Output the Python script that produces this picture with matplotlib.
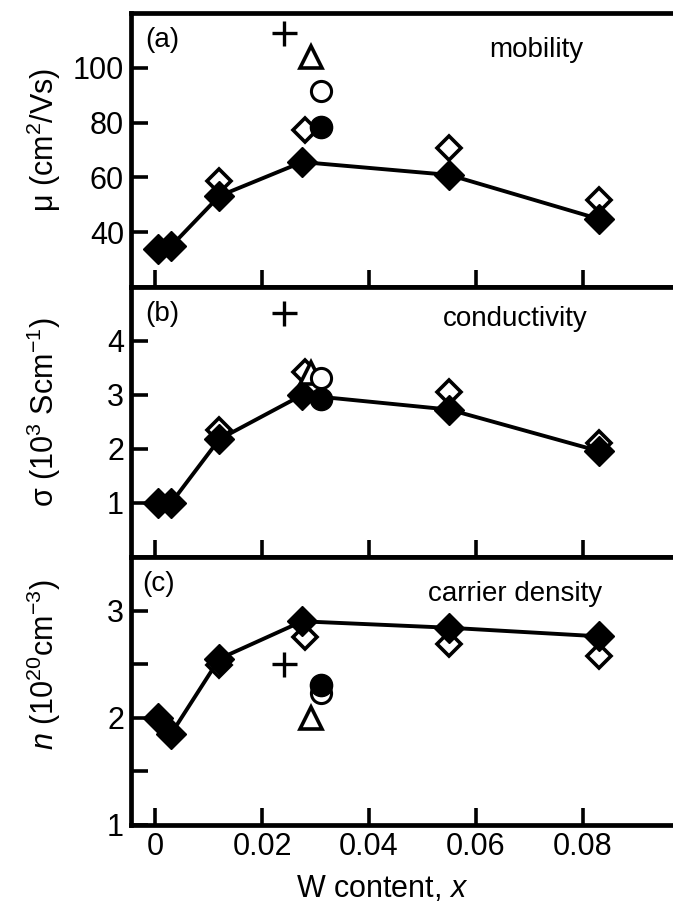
import matplotlib
matplotlib.use("Agg")
import matplotlib.pyplot as plt

plt.rcParams['font.family'] = ['Liberation Sans', 'DejaVu Sans']
plt.rcParams['mathtext.fontset'] = 'custom'
plt.rcParams['mathtext.rm'] = 'Liberation Sans'
plt.rcParams['mathtext.it'] = 'Liberation Sans:italic'

# W-doped films: x = W content
x_film = [0.0005, 0.003, 0.012, 0.0275, 0.055, 0.083]
x_film_open = [0.012, 0.028, 0.055, 0.083]

mu_film = [33.8, 34.9, 53.2, 65.6, 60.9, 44.8]
mu_open = [58.7, 77.2, 70.8, 51.6]
sigma_film = [1.0, 1.0, 2.18, 3.0, 2.73, 1.96]
sigma_open = [2.35, 3.42, 3.06, 2.12]
n_film = [2.0, 1.85, 2.55, 2.90, 2.84, 2.76]
n_open = [2.49, 2.75, 2.69, 2.58]

# reference samples
x_plus = 0.0241
x_tri = 0.0292
x_circ = 0.031
mu_plus, mu_tri, mu_ocirc, mu_fcirc = 112.6, 103.8, 91.6, 78.4
sigma_plus, sigma_tri, sigma_ocirc, sigma_fcirc = 4.52, 3.4, 3.31, 2.93
n_plus, n_tri, n_ocirc, n_fcirc = 2.50, 2.0, 2.23, 2.31

fig = plt.figure(figsize=(6.73, 9.07), dpi=100)
W = 673.0
H = 907.0
left = 131 / W
width = 559 / W
ax_a = fig.add_axes([left, (H - 287) / H, width, 274 / H])
ax_b = fig.add_axes([left, (H - 557) / H, width, 270 / H])
ax_c = fig.add_axes([left, (H - 825) / H, width, 268 / H])

panels = [
    (ax_a, mu_film, mu_open, (mu_plus, mu_tri, mu_ocirc, mu_fcirc)),
    (ax_b, sigma_film, sigma_open, (sigma_plus, sigma_tri, sigma_ocirc, sigma_fcirc)),
    (ax_c, n_film, n_open, (n_plus, n_tri, n_ocirc, n_fcirc)),
]

for ax, filled, opened, (yp, yt, yoc, yfc) in panels:
    ax.plot(x_film_open, opened, linestyle='none', marker='D', ms=12.5,
            mfc='white', mec='black', mew=2.6, zorder=3)
    ax.plot(x_film, filled, color='black', lw=2.8, marker='D', ms=15,
            mfc='black', mec='black', mew=1, zorder=4)
    ax.plot([x_tri], [yt], marker='^', ms=16.5, mfc='white', mec='black',
            mew=2.6, linestyle='none', zorder=5)
    ax.plot([x_circ], [yoc], marker='o', ms=14.5, mfc='white', mec='black',
            mew=2.2, linestyle='none', zorder=5)
    ax.plot([x_circ], [yfc], marker='o', ms=16, mfc='black', mec='black',
            linestyle='none', zorder=6)
    ax.plot([x_plus], [yp], marker='+', ms=18, mec='black', mew=2.4,
            linestyle='none', zorder=6)

    ax.set_xlim(-0.0045, 0.1)
    ax.set_xticks([0, 0.02, 0.04, 0.06, 0.08])
    ax.tick_params(direction='in', length=12.5, width=2.6, labelsize=22,
                   pad=5, top=False, right=False)
    for side in ['left', 'bottom', 'top', 'right']:
        ax.spines[side].set_linewidth(3.4)

ax_a.set_ylim(20, 120)
ax_a.set_yticks([40, 60, 80, 100])
ax_b.set_ylim(0, 5)
ax_b.set_yticks([1, 2, 3, 4])
ax_c.set_ylim(1, 3.5)
ax_c.set_yticks([1, 1.5, 2, 2.5, 3])
ax_c.set_yticklabels(['1', '', '2', '', '3'])
ax_a.tick_params(axis='x', labelbottom=False)
ax_b.tick_params(axis='x', labelbottom=False)
ax_c.set_xticklabels(['0', '0.02', '0.04', '0.06', '0.08'])

# panel tags and quantity names
ax_a.text(0.025, 0.876, '(a)', transform=ax_a.transAxes, fontsize=20, ha='left', va='baseline')
ax_a.text(0.809, 0.841, 'mobility', transform=ax_a.transAxes, fontsize=20, ha='right', va='baseline')
ax_b.text(0.025, 0.874, '(b)', transform=ax_b.transAxes, fontsize=20, ha='left', va='baseline')
ax_b.text(0.816, 0.854, 'conductivity', transform=ax_b.transAxes, fontsize=20, ha='right', va='baseline')
ax_c.text(0.021, 0.873, '(c)', transform=ax_c.transAxes, fontsize=20, ha='left', va='baseline')
ax_c.text(0.843, 0.834, 'carrier density', transform=ax_c.transAxes, fontsize=20, ha='right', va='baseline')

# axis titles
fig.text(44 / W, 1 - 140 / H, r'μ (cm$^{2}$/Vs)', rotation=90, ha='center', va='center', fontsize=22)
fig.text(44 / W, 1 - 412 / H, r'σ (10$^{3}$ Scm$^{-1}$)', rotation=90, ha='center', va='center', fontsize=22)
fig.text(44 / W, 1 - 665 / H, r'$\mathit{n}$ (10$^{20}$cm$^{-3}$)', rotation=90, ha='center', va='center', fontsize=22)
fig.text(382 / W, 1 - 897 / H, r'W content, $\mathit{x}$', ha='center', va='baseline', fontsize=22)

fig.savefig('out.png', dpi=100)
